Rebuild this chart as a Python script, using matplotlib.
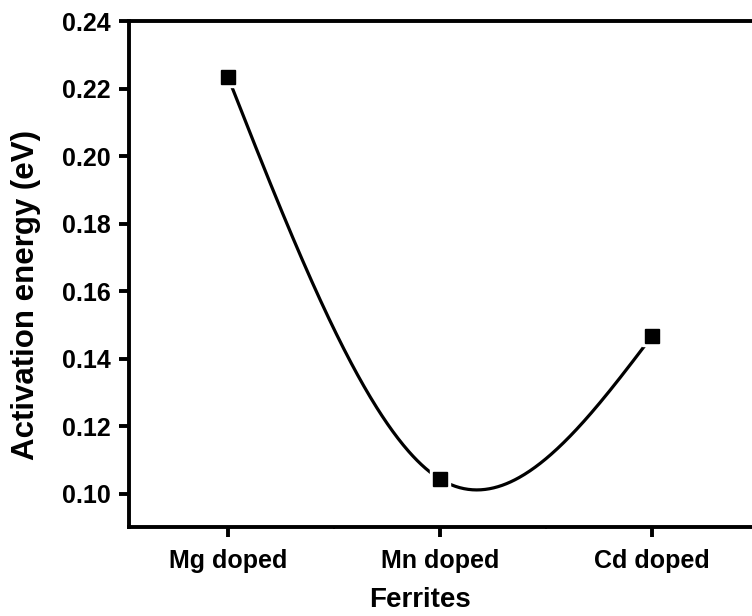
import numpy as np
import matplotlib
matplotlib.use("Agg")
import matplotlib.pyplot as plt
from matplotlib.ticker import FixedLocator

categories = ["Mg doped", "Mn doped", "Cd doped"]
activation_energy = [0.2234, 0.1044, 0.1467]
y_ticks = [0.10, 0.12, 0.14, 0.16, 0.18, 0.20, 0.22, 0.24]

plt.rcParams['font.family'] = ['Liberation Sans', 'DejaVu Sans']
plt.rcParams['font.weight'] = 'bold'


def natural_spline(x, y, xs):
    x = np.asarray(x, float)
    y = np.asarray(y, float)
    n = len(x)
    h = np.diff(x)
    A = np.zeros((n, n))
    r = np.zeros(n)
    A[0, 0] = 1
    A[-1, -1] = 1
    for i in range(1, n - 1):
        A[i, i - 1] = h[i - 1]
        A[i, i] = 2 * (h[i - 1] + h[i])
        A[i, i + 1] = h[i]
        r[i] = 6 * ((y[i + 1] - y[i]) / h[i] - (y[i] - y[i - 1]) / h[i - 1])
    M = np.linalg.solve(A, r)
    out = np.empty_like(xs)
    for k, xv in enumerate(xs):
        i = min(np.searchsorted(x, xv, side='right') - 1, n - 2)
        i = max(i, 0)
        a = x[i + 1] - xv
        b = xv - x[i]
        hi = h[i]
        out[k] = (M[i] * a ** 3 / (6 * hi) + M[i + 1] * b ** 3 / (6 * hi)
                  + (y[i] / hi - M[i] * hi / 6) * a + (y[i + 1] / hi - M[i + 1] * hi / 6) * b)
    return out


fig = plt.figure(figsize=(7.52, 6.16), dpi=100)
W, H = 752, 616
left, right, top, bottom = 129, 758, 21, 527
ax = fig.add_axes([left / W, 1 - bottom / H, (right - left) / W, (bottom - top) / H])

xpos = np.arange(len(categories))
xs = np.linspace(xpos[0], xpos[-1], 400)
ys = natural_spline(xpos, activation_energy, xs)
ax.plot(xs, ys, color='black', lw=2.3, zorder=2, solid_capstyle='butt')
ax.plot(xpos, activation_energy, 's', color='white', ms=14, zorder=3)
ax.plot(xpos, activation_energy, 's', color='black', ms=9.4, zorder=4)

ax.set_xlim(-0.467, 2.5)
ax.set_ylim(0.0902, 0.24)
ax.set_xticks(xpos)
ax.set_xticklabels(categories)
ax.xaxis.set_minor_locator(FixedLocator([0.5, 1.5]))
ax.set_yticks(y_ticks)
ax.set_yticklabels([f"{v:.2f}" for v in y_ticks])

for s in ['left', 'bottom', 'top']:
    ax.spines[s].set_linewidth(2.8)
ax.spines['right'].set_visible(False)

ax.tick_params(axis='both', which='major', direction='out', length=7, width=2.8,
               labelsize=18, pad=6)
ax.tick_params(axis='x', which='major', pad=9)
ax.tick_params(axis='x', which='minor', direction='out', length=1.5, width=1.5)
ax.tick_params(axis='x', which='both', top=True, labeltop=False)
for t in ax.xaxis.get_major_ticks() + ax.xaxis.get_minor_ticks():
    t.tick2line.set_markersize(1)
    t.tick2line.set_markeredgewidth(1)
    t.tick2line.set_color('#555555')

for lbl in ax.get_xticklabels() + ax.get_yticklabels():
    lbl.set_fontweight('bold')

fig.text(26 / W, 1 - 295 / H, "Activation energy (eV)", rotation=90, ha='center', va='center',
         fontsize=22.5, fontweight='bold')
fig.text(420 / W, 1 - 600 / H, "Ferrites", ha='center', va='center',
         fontsize=20, fontweight='bold')

fig.savefig("out.png", dpi=100)
